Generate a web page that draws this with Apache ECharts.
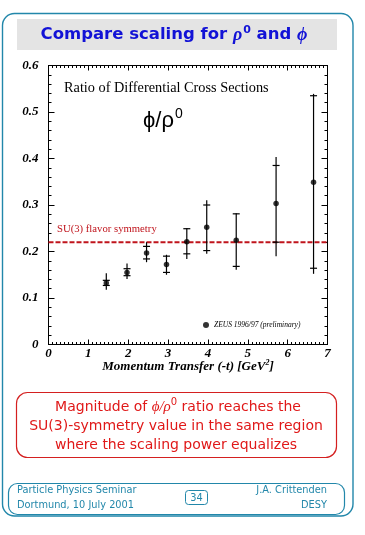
<!DOCTYPE html>
<html>
<head>
<meta charset="utf-8">
<script src="https://cdn.jsdelivr.net/npm/echarts@6/dist/echarts.min.js"></script>
<style>html,body{margin:0;padding:0;background:#fff;}#c{width:365px;height:535px;}</style>
</head>
<body>
<div id="c"></div>
<script>
// -t values (GeV^2)
var tValues = [1.45, 1.97, 2.46, 2.96, 3.47, 3.97, 4.71, 5.71, 6.65];
// phi / rho0 ratio
var ratio = [0.132, 0.155, 0.197, 0.172, 0.221, 0.252, 0.224, 0.303, 0.349];
// total error band
var totLow  = [0.118, 0.141, 0.177, 0.150, 0.184, 0.195, 0.161, 0.190, 0.152];
var totHigh = [0.153, 0.174, 0.220, 0.193, 0.250, 0.310, 0.282, 0.403, 0.539];
// statistical error (crossbar positions)
var statLow  = [0.127, 0.148, 0.184, 0.155, 0.195, 0.202, 0.168, 0.220, 0.164];
var statHigh = [0.138, 0.163, 0.211, 0.190, 0.249, 0.300, 0.281, 0.385, 0.535];
// SU(3) flavour symmetry value
var su3Value = 0.22;
var xTicks = [0, 1, 2, 3, 4, 5, 6, 7];
var yTicks = [0, 0.1, 0.2, 0.3, 0.4, 0.5, 0.6];

var teal = '#2287aa';
var serif = '"Liberation Serif", "DejaVu Serif", serif';
var sans = '"DejaVu Sans", "Liberation Sans", sans-serif';

var errData = tValues.map(function (t, i) {
  return [t, totLow[i], totHigh[i], statLow[i], statHigh[i]];
});
var ptData = tValues.map(function (t, i) { return [t, ratio[i]]; });

var chart = echarts.init(document.getElementById('c'), null, {renderer: 'canvas'});

var axisLabelStyle = {fontFamily: serif, fontWeight: 'bold', fontStyle: 'italic', fontSize: 13, color: '#000'};

chart.setOption({
  animation: false,
  backgroundColor: '#fff',
  grid: {left: 48.5, right: 37.5, top: 65.5, bottom: 190.5, containLabel: false},
  legend: {
    show: true,
    left: 198, top: 316,
    itemWidth: 6, itemHeight: 6, itemGap: 4,
    data: [{name: 'ZEUS 1996/97 (preliminary)', icon: 'circle'}],
    textStyle: {fontFamily: serif, fontStyle: 'italic', fontSize: 7.5, color: '#000', padding: [0, 0, 0, 0]},
    selectedMode: false
  },
  xAxis: [{
    type: 'value', min: 0, max: 7, interval: 1, position: 'bottom',
    axisLine: {show: true, onZero: false, lineStyle: {color: '#000', width: 1}},
    axisTick: {show: true, inside: true, length: 5, lineStyle: {color: '#000'}},
    minorTick: {show: true, splitNumber: 10, length: 2.5, lineStyle: {color: '#000'}},
    splitLine: {show: false},
    axisLabel: Object.assign({margin: 3, formatter: function (v) { return xTicks.indexOf(v) >= 0 ? String(v) : ''; }}, axisLabelStyle),
    name: '{a|Momentum Transfer (-t) [GeV}{s|2}{a|]}',
    nameLocation: 'middle', nameGap: 14, nameMoveOverlap: false,
    nameTextStyle: {
      rich: {
        a: {fontFamily: serif, fontWeight: 'bold', fontStyle: 'italic', fontSize: 13, color: '#000'},
        s: {fontFamily: serif, fontWeight: 'bold', fontStyle: 'italic', fontSize: 8, color: '#000', verticalAlign: 'top', padding: [0, 0, 8, 0]}
      }
    }
  }, {
    type: 'value', min: 0, max: 7, interval: 1, position: 'top',
    axisLine: {show: true, onZero: false, lineStyle: {color: '#000', width: 1}},
    axisTick: {show: true, inside: true, length: 5, lineStyle: {color: '#000'}},
    minorTick: {show: true, splitNumber: 10, length: 2.5, lineStyle: {color: '#000'}},
    splitLine: {show: false}, axisLabel: {show: false}
  }],
  yAxis: [{
    type: 'value', min: 0, max: 0.6, interval: 0.1, position: 'left',
    axisLine: {show: true, onZero: false, lineStyle: {color: '#000', width: 1}},
    axisTick: {show: true, inside: true, length: 6, lineStyle: {color: '#000'}},
    minorTick: {show: true, splitNumber: 5, length: 3, lineStyle: {color: '#000'}},
    splitLine: {show: false},
    axisLabel: Object.assign({margin: 10, formatter: function (v) {
      var r = Math.round(v * 10) / 10;
      return r === 0 ? '0' : r.toFixed(1);
    }}, axisLabelStyle)
  }, {
    type: 'value', min: 0, max: 0.6, interval: 0.1, position: 'right',
    axisLine: {show: true, onZero: false, lineStyle: {color: '#000', width: 1}},
    axisTick: {show: true, inside: true, length: 6, lineStyle: {color: '#000'}},
    minorTick: {show: true, splitNumber: 5, length: 3, lineStyle: {color: '#000'}},
    splitLine: {show: false}, axisLabel: {show: false}
  }],
  series: [{
    name: 'SU(3)', type: 'line', xAxisIndex: 0, yAxisIndex: 0,
    data: [[0, su3Value], [7, su3Value]],
    symbol: 'none', silent: true,
    lineStyle: {color: '#c0141c', width: 2, type: [5, 2]}, z: 1
  }, {
    name: 'errors', type: 'custom', xAxisIndex: 0, yAxisIndex: 0,
    data: errData, silent: true, z: 2,
    renderItem: function (params, api) {
      var x = api.value(0);
      var pLo = api.coord([x, api.value(1)]);
      var pHi = api.coord([x, api.value(2)]);
      var sLo = api.coord([x, api.value(3)]);
      var sHi = api.coord([x, api.value(4)]);
      var hw = 3.5;
      var st = {stroke: '#000', lineWidth: 1.2};
      return {type: 'group', children: [
        {type: 'line', shape: {x1: pLo[0], y1: pLo[1], x2: pHi[0], y2: pHi[1]}, style: st},
        {type: 'line', shape: {x1: sLo[0] - hw, y1: sLo[1], x2: sLo[0] + hw, y2: sLo[1]}, style: st},
        {type: 'line', shape: {x1: sHi[0] - hw, y1: sHi[1], x2: sHi[0] + hw, y2: sHi[1]}, style: st}
      ]};
    }
  }, {
    name: 'ZEUS 1996/97 (preliminary)', type: 'scatter', xAxisIndex: 0, yAxisIndex: 0,
    data: ptData, symbol: 'circle', symbolSize: 5.5, silent: true, z: 3,
    itemStyle: {color: '#000'}
  }],
  graphic: [
    {type: 'rect', shape: {x: 2.5, y: 13.5, width: 350.5, height: 502.5, r: 12}, style: {fill: 'none', stroke: teal, lineWidth: 1.4}, z: -10},
    {type: 'rect', shape: {x: 17, y: 19, width: 320, height: 31}, style: {fill: '#e4e4e4'}, z: -9},
    {type: 'text', x: 174, y: 35, style: {
      text: '{t|Compare scaling for }{m|ρ}{s|0}{t| and }{m|ϕ}',
      align: 'center', verticalAlign: 'middle',
      rich: {
        t: {fontFamily: sans, fontWeight: 'bold', fontSize: 16.5, fill: '#1212d6'},
        m: {fontFamily: serif, fontStyle: 'italic', fontWeight: 'bold', fontSize: 18, fill: '#1212d6'},
        s: {fontFamily: sans, fontWeight: 'bold', fontSize: 11, fill: '#1212d6', verticalAlign: 'top', padding: [0, 0, 10, 1]}
      }
    }},
    // plot annotations
    {type: 'text', x: 64, y: 88, style: {text: 'Ratio of Differential Cross Sections', fontFamily: serif, fontSize: 14.3, fill: '#000', verticalAlign: 'middle'}},
    {type: 'text', x: 143, y: 121, style: {
      text: '{a|ϕ/ρ}{b|0}', verticalAlign: 'middle',
      rich: {
        a: {fontFamily: '"Liberation Sans", "DejaVu Sans", sans-serif', fontSize: 22, fill: '#000'},
        b: {fontFamily: '"Liberation Sans", sans-serif', fontSize: 14, fill: '#000', verticalAlign: 'top', padding: [0, 0, 14, 1]}
      }
    }},
    {type: 'text', x: 57, y: 229, style: {text: 'SU(3) flavor symmetry', fontFamily: serif, fontSize: 10.7, fill: '#c0141c', verticalAlign: 'middle'}},
    // conclusion box
    {type: 'rect', shape: {x: 16.5, y: 392.5, width: 320, height: 65, r: 11}, style: {fill: 'none', stroke: '#d42020', lineWidth: 1.2}},
    {type: 'text', x: 178, y: 407, style: {
      text: '{t|Magnitude of }{m|ϕ/ρ}{s|0}{t| ratio reaches the}',
      align: 'center', verticalAlign: 'middle',
      rich: {
        t: {fontFamily: sans, fontSize: 14, fill: '#e01818'},
        m: {fontFamily: serif, fontStyle: 'italic', fontSize: 15, fill: '#e01818'},
        s: {fontFamily: sans, fontSize: 10, fill: '#e01818', verticalAlign: 'top', padding: [0, 0, 9, 0]}
      }
    }},
    {type: 'text', x: 176, y: 426, style: {text: 'SU(3)-symmetry value in the same region', fontFamily: sans, fontSize: 14, fill: '#e01818', align: 'center', verticalAlign: 'middle'}},
    {type: 'text', x: 176, y: 445, style: {text: 'where the scaling power equalizes', fontFamily: sans, fontSize: 14, fill: '#e01818', align: 'center', verticalAlign: 'middle'}},
    // footer
    {type: 'rect', shape: {x: 8.5, y: 483.5, width: 336, height: 31, r: 9}, style: {fill: 'none', stroke: teal, lineWidth: 1.2}},
    {type: 'text', x: 17, y: 490, style: {text: 'Particle Physics Seminar', fontFamily: sans, fontSize: 9.8, fill: teal, verticalAlign: 'middle'}},
    {type: 'text', x: 17, y: 505, style: {text: 'Dortmund, 10 July 2001', fontFamily: sans, fontSize: 9.8, fill: teal, verticalAlign: 'middle'}},
    {type: 'rect', shape: {x: 185.5, y: 490.5, width: 22, height: 14, r: 3}, style: {fill: 'none', stroke: teal, lineWidth: 1}},
    {type: 'text', x: 196.5, y: 498, style: {text: '34', fontFamily: sans, fontSize: 9.8, fill: teal, align: 'center', verticalAlign: 'middle'}},
    {type: 'text', x: 327, y: 490, style: {text: 'J.A. Crittenden', fontFamily: sans, fontSize: 9.8, fill: teal, align: 'right', verticalAlign: 'middle'}},
    {type: 'text', x: 327, y: 505, style: {text: 'DESY', fontFamily: sans, fontSize: 9.8, fill: teal, align: 'right', verticalAlign: 'middle'}}
  ]
});
</script>
</body>
</html>
